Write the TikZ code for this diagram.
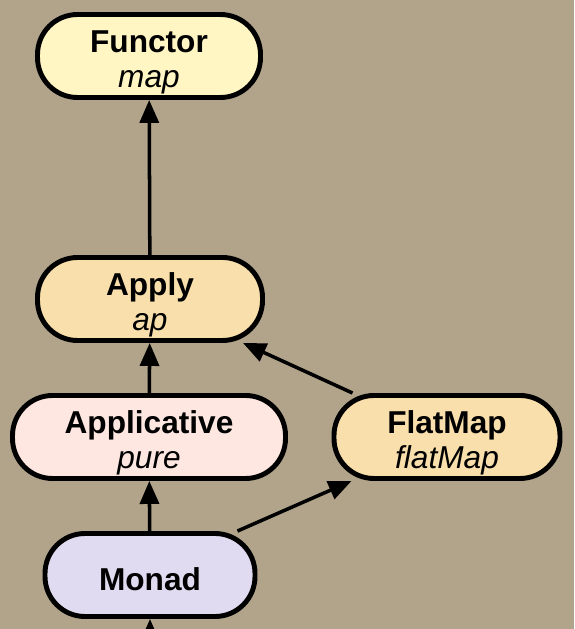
\documentclass[tikz,border=0pt]{standalone}
\usepackage{fontspec}
\setmainfont{Liberation Sans}
\usepackage{xcolor}
\usetikzlibrary{arrows.meta, positioning, calc}

\definecolor{bgtan}{RGB}{177,164,139}
\definecolor{functorfill}{RGB}{255,246,196}
\definecolor{applyfill}{RGB}{248,223,171}
\definecolor{appfill}{RGB}{253,231,224}
\definecolor{monadfill}{RGB}{224,219,240}

\begin{document}
\begin{tikzpicture}[
    every node/.style={font=\fontsize{18}{19.8}\selectfont},
    cls/.style={draw, line width=2.8pt, rounded corners=0.8cm, align=center,
                minimum height=1.66cm, inner sep=0pt,
                text height=1.26cm, text depth=0pt},
    arr/.style={-{Triangle[length=0.46cm, width=0.38cm]}, line width=2pt},
  ]
    \useasboundingbox (0,0) rectangle (11.48,12.58);
    \clip (0,0) rectangle (11.48,12.58);
    \fill[bgtan] (0,0) rectangle (11.48,12.58);

    % type classes
    \node[cls, fill=functorfill, minimum width=4.46cm] (fu)
         at (2.98, 11.46) {\textbf{Functor}\\\textit{map}};
    \node[cls, fill=applyfill, minimum width=4.5cm] (ap)
         at (3.0, 6.60) {\textbf{Apply}\\\textit{ap}};
    \node[cls, fill=appfill, minimum width=5.46cm] (apl)
         at (2.98, 3.84) {\textbf{Applicative}\\\textit{pure}};
    \node[cls, fill=applyfill, minimum width=4.52cm] (fm)
         at (8.94, 3.84) {\textbf{FlatMap}\\\textit{flatMap}};
    \node[cls, fill=monadfill, minimum width=4.2cm, text height=0.6cm] (mo)
         at (3.0, 1.08) {\textbf{Monad}};
    \coordinate (below) at (3.0, -0.6);

    % extends
    \draw[arr] (ap) -- (fu);
    \draw[arr] (apl) -- (ap);
    \draw[arr] ([xshift=0.42cm]fm.north west) -- ([xshift=-0.44cm]ap.south east);
    \draw[arr] (mo) -- (apl);
    \draw[arr] ([xshift=-0.4cm]mo.north east) -- ([xshift=0.4cm]fm.south west);
    \draw[arr] (below) -- (mo);
  \end{tikzpicture}
\end{document}
